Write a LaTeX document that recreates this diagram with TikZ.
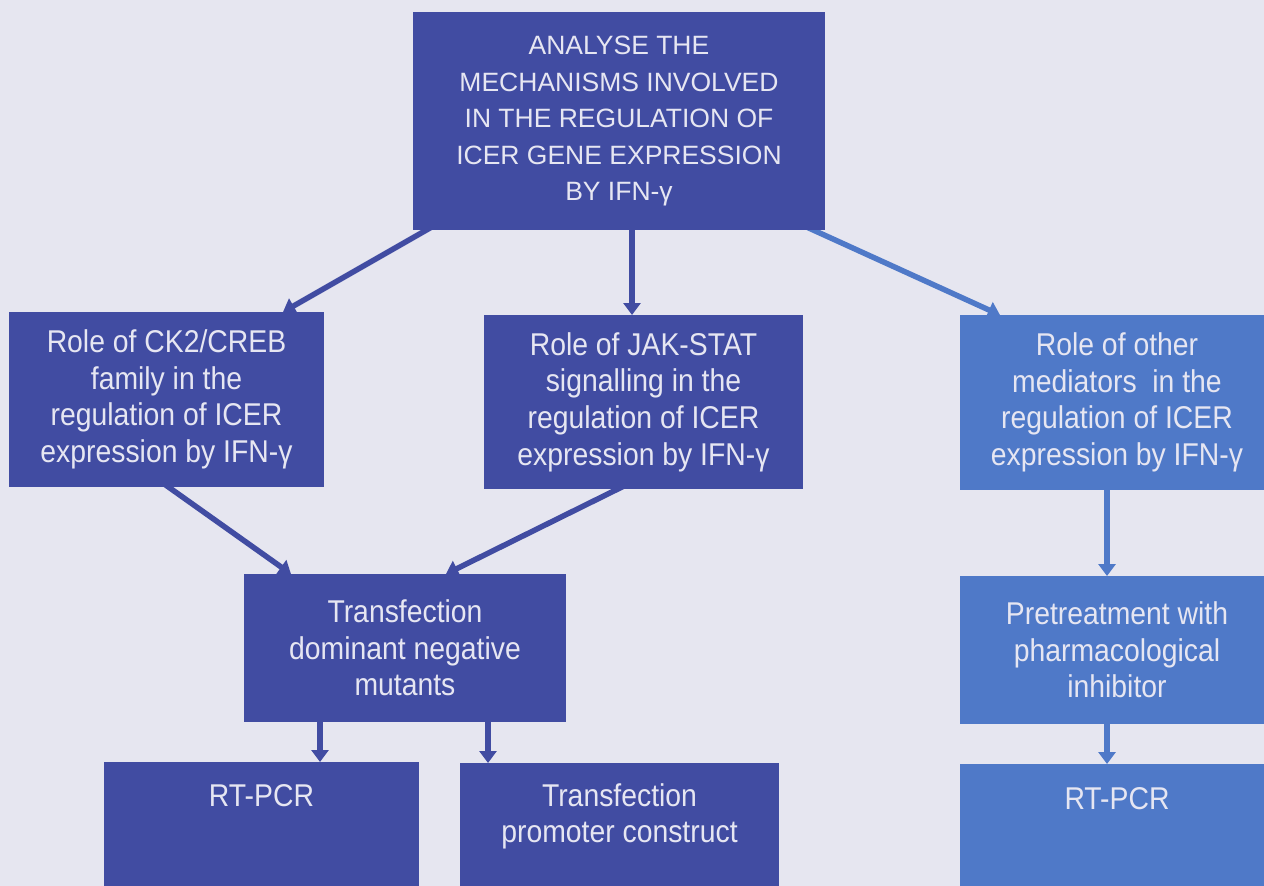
\documentclass[tikz,border=0pt]{standalone}
\usepackage{fontspec}
\setmainfont{Liberation Sans}
\newfontfamily\condfont[FakeStretch=0.9]{Liberation Sans}
\usetikzlibrary{arrows.meta}
\definecolor{bg}{HTML}{E6E6F0}
\definecolor{dk}{HTML}{414CA2}
\definecolor{lt}{HTML}{4F79C8}
\definecolor{tx}{HTML}{E6E6F2}
\pgfdeclarelayer{back}
\pgfsetlayers{back,main}
\tikzset{
  box/.style={fill=#1, draw=none, inner sep=0pt, outer sep=0pt},
  lbl/.style={text=tx, align=center, inner sep=0pt, font=\condfont\fontsize{31.5}{36.7}\selectfont},
  conn/.style={draw=#1, line width=5.5pt, -{Triangle[length=12pt,width=17pt]}}
}
\begin{document}
\begin{tikzpicture}[x=1pt,y=-1pt]
\useasboundingbox (0,0) rectangle (1264,886);
% boxes
\node[box=dk, lbl, font=\rmfamily\fontsize{26.5}{36.5}\selectfont, minimum width=412pt, minimum height=218pt] (top) at (619,121)
  {ANALYSE THE\\MECHANISMS INVOLVED\\IN THE REGULATION OF\\ICER GENE EXPRESSION\\BY IFN-γ};
\node[box=dk, lbl, minimum width=315pt, minimum height=175pt] (ck2) at (166.5,399.5)
  {Role of CK2/CREB\\family in the\\regulation of ICER\\expression by IFN-γ};
\node[box=dk, lbl, minimum width=319pt, minimum height=174pt] (jak) at (643.5,402)
  {Role of JAK-STAT\\signalling in the\\regulation of ICER\\expression by IFN-γ};
\node[box=lt, lbl, minimum width=314pt, minimum height=175pt] (other) at (1117,402.5)
  {Role of other\\mediators\ \ in the\\regulation of ICER\\expression by IFN-γ};
\node[box=dk, lbl, minimum width=322pt, minimum height=148pt] (dn) at (405,648)
  {Transfection\\dominant negative\\mutants};
\node[box=lt, lbl, minimum width=314pt, minimum height=148pt] (pre) at (1117,650)
  {Pretreatment with\\pharmacological\\inhibitor};
\node[box=dk, minimum width=315pt, minimum height=138pt] (rtl) at (261.5,831) {};
\node[box=dk, minimum width=319pt, minimum height=137pt] (prom) at (619.5,831.5) {};
\node[box=lt, minimum width=314pt, minimum height=136pt] (rtr) at (1117,832) {};
\node[lbl, anchor=north] (rtltxt) at ([yshift=-22.5pt]rtl.north) {RT-PCR};
\node[lbl, anchor=north] (promtxt) at ([yshift=-20pt]prom.north) {Transfection\\promoter construct};
\node[lbl, anchor=north] (rtrtxt) at ([yshift=-23.5pt]rtr.north) {RT-PCR};
% connectors
\begin{pgfonlayer}{back}
\fill[bg] (0,0) rectangle (1264,886);
\draw[conn=dk] ([xshift=-182pt,yshift=6pt]top.south) -- ([xshift=116.5pt]ck2.north);
\draw[conn=dk] ([xshift=13pt,yshift=6pt]top.south) -- ([xshift=-11.5pt]jak.north);
\draw[conn=lt] ([xshift=181pt,yshift=6pt]top.south) -- ([xshift=-117pt]other.north);
\draw[conn=dk] ([xshift=-6.5pt,yshift=6pt]ck2.south) -- ([xshift=-114pt]dn.north);
\draw[conn=dk] ([xshift=-13.5pt,yshift=6pt]jak.south) -- ([xshift=41pt]dn.north);
\draw[conn=dk] ([xshift=-85pt,yshift=6pt]dn.south) -- ([xshift=58.5pt]rtl.north);
\draw[conn=dk] ([xshift=83pt,yshift=6pt]dn.south) -- ([xshift=-131.5pt]prom.north);
\draw[conn=lt] ([xshift=-10pt,yshift=6pt]other.south) -- ([xshift=-10pt]pre.north);
\draw[conn=lt] ([xshift=-10pt,yshift=6pt]pre.south) -- ([xshift=-10pt]rtr.north);
\end{pgfonlayer}
\end{tikzpicture}
\end{document}
